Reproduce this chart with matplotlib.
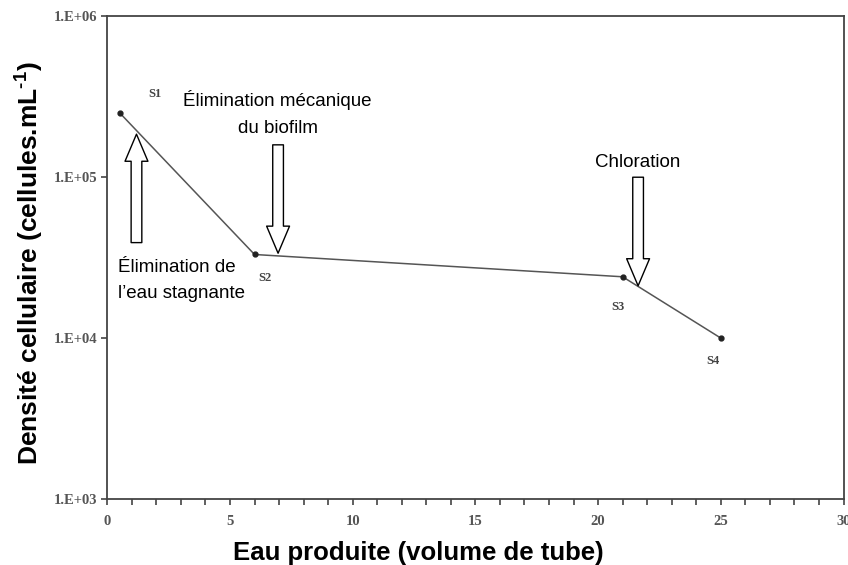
import matplotlib
matplotlib.use("Agg")
import matplotlib.pyplot as plt
from matplotlib.ticker import MultipleLocator, FixedLocator, FixedFormatter, NullLocator

# donnees
sample_names = ["S1", "S2", "S3", "S4"]
volume_tube = [0.5, 6, 21, 25]
densite = [2.5e5, 3.3e4, 2.4e4, 1.0e4]

y_ticks = [1e3, 1e4, 1e5, 1e6]
y_tick_labels = ["1.E+03", "1.E+04", "1.E+05", "1.E+06"]
x_ticks = [0, 5, 10, 15, 20, 25, 30]

plt.rcParams["mathtext.fontset"] = "custom"
plt.rcParams["mathtext.rm"] = "Liberation Sans:bold"
plt.rcParams["mathtext.bf"] = "Liberation Sans:bold"
plt.rcParams["mathtext.default"] = "bf"

fig = plt.figure(figsize=(8.48, 5.65), dpi=100)
ax = fig.add_axes([0.1265, 0.1163, 0.8682, 0.856])

ax.plot(volume_tube, densite, color="#555555", lw=1.1,
        marker="o", ms=3.5, mfc="#222222", mec="#222222", zorder=3)

ax.set_yscale("log")
ax.set_xlim(0, 30)
ax.set_ylim(1e3, 1e6)

ax.yaxis.set_major_locator(FixedLocator(y_ticks))
ax.yaxis.set_major_formatter(FixedFormatter(y_tick_labels))
ax.yaxis.set_minor_locator(NullLocator())
ax.xaxis.set_major_locator(FixedLocator(x_ticks))
ax.xaxis.set_minor_locator(MultipleLocator(1))

for s in ax.spines.values():
    s.set_color("#444444")
    s.set_linewidth(1.3)

ax.tick_params(axis="both", which="both", direction="out", length=4.3,
               width=1.2, color="#444444")
ax.tick_params(axis="x", which="major", pad=7)
ax.tick_params(axis="y", which="major", pad=3)
for lab in ax.get_xticklabels() + ax.get_yticklabels():
    lab.set_fontfamily("Liberation Serif")
    lab.set_fontweight("bold")
    lab.set_fontsize(10.5)
    lab.set_color("#555555")

# etiquettes des points
offsets = [(25.4, 13.2), (7.2, -17), (-3.1, -21.8), (-5.8, -16.3)]
for name, x, y, off in zip(sample_names, volume_tube, densite, offsets):
    ax.annotate(name, (x, y), xytext=off, textcoords="offset points",
                ha="center", va="center", fontsize=9, fontweight="bold",
                family="Liberation Serif", color="#444444")

# fleches
arrow_style = "simple,head_length=1.95,head_width=1.65,tail_width=0.77"
arrows = [((1.19, 3.91e4), (1.19, 1.84e5)),
          ((6.96, 1.58e5), (6.96, 3.36e4)),
          ((21.63, 9.95e4), (21.63, 2.11e4))]
for tail, tip in arrows:
    ax.annotate("", xy=tip, xytext=tail,
                arrowprops=dict(arrowstyle=arrow_style, mutation_scale=10,
                                fc="white", ec="black", lw=1,
                                shrinkA=0, shrinkB=0), zorder=4)

txt = dict(family="Liberation Sans", fontsize=13.5, color="black",
           linespacing=1.72)
ax.text(6.94, 1.88e5, "Élimination mécanique\ndu biofilm", ha="center",
        va="baseline", multialignment="center", **txt)
ax.text(0.45, 1.766e4, "Élimination de\nl’eau stagnante", ha="left",
        va="baseline", multialignment="left", **txt)
ax.text(21.63, 1.156e5, "Chloration", ha="center", va="baseline", **txt)

fig.text(0.493, 0.0097, "Eau produite (volume de tube)", ha="center",
         va="baseline", fontsize=18.5, fontweight="bold", family="Liberation Sans")
fig.text(0.035, 0.535, "Densité cellulaire (cellules.mL$^{\\text{-1}}$)",
         ha="center", va="center", rotation=90, fontsize=19,
         fontweight="bold", family="Liberation Sans")

fig.savefig("out.png", dpi=100)
